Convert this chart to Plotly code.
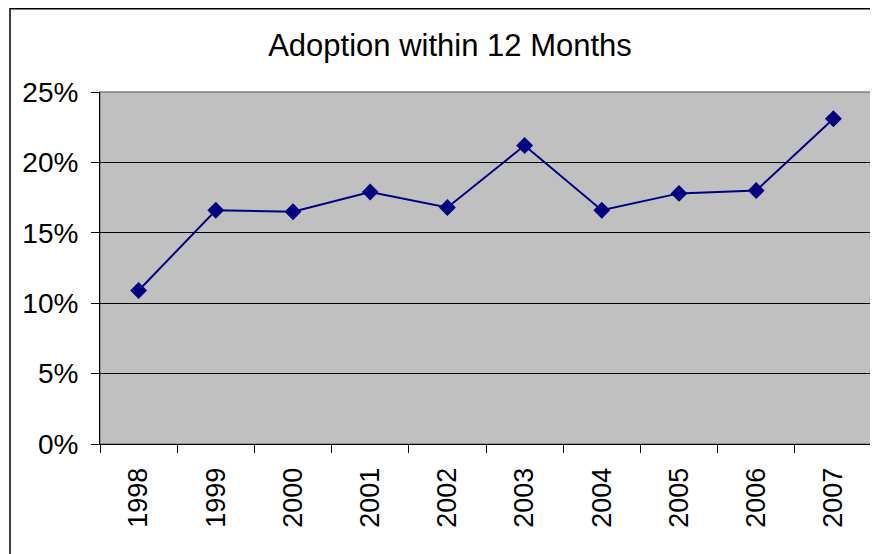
import plotly.graph_objects as go

# ── Data ──────────────────────────────────────────────────────────────────────
years = ["1998", "1999", "2000", "2001", "2002", "2003", "2004", "2005", "2006", "2007"]
adoption = [0.109, 0.166, 0.165, 0.179, 0.168, 0.212, 0.166, 0.178, 0.180, 0.231]
y_ticks = [0, 0.05, 0.10, 0.15, 0.20, 0.25]

# page body has an 8px margin, so the figure is sized to fit the viewport
W, H = 870, 546
L, R, T, B = 92, 6, 84, 110
pw, ph = W - L - R, H - T - B

FONT = "Liberation Sans, Arial, sans-serif"
NAVY = "#000080"

fig = go.Figure(go.Scatter(
    x=years,
    y=adoption,
    mode="lines+markers",
    line=dict(color=NAVY, width=2),
    marker=dict(symbol="diamond", size=13, color=NAVY),
    hovertemplate="%{x}: %{y:.1%}<extra></extra>",
))

fig.update_layout(
    width=W, height=H,
    margin=dict(l=L, r=R, t=T, b=B, pad=0),
    paper_bgcolor="white",
    plot_bgcolor="#C0C0C0",
    showlegend=False,
    font=dict(family=FONT, color="black", size=28),
    title=dict(text="Adoption within 12 Months",
               x=442 / W, xanchor="center",
               y=1 - 37 / H, yanchor="middle",
               font=dict(size=31, family=FONT, color="black")),
    xaxis=dict(
        type="category",
        tickson="boundaries",
        ticks="outside", ticklen=8, tickcolor="black", tickwidth=1,
        tickangle=-90,
        showgrid=False,
        showline=True, linecolor="black", linewidth=1,
        range=[-0.5, len(years) - 0.5],
        tickfont=dict(size=27),
        ticklabelstandoff=12,
    ),
    yaxis=dict(
        range=[0, 0.25],
        tickvals=y_ticks,
        tickformat=".0%",
        ticks="outside", ticklen=8, tickcolor="black", tickwidth=1,
        showgrid=True, gridcolor="black", gridwidth=1,
        showline=True, linecolor="black", linewidth=1,
        zeroline=False,
        tickfont=dict(size=28),
        ticklabelstandoff=7,
    ),
)

# plot-area border (top / right) in grey
fig.add_shape(type="rect", xref="paper", yref="paper",
              x0=0, x1=1, y0=0, y1=1,
              line=dict(color="#808080", width=1.5), layer="below")

# outer chart frame
fig.add_shape(type="rect", xref="paper", yref="paper",
              x0=(2 - L) / pw, x1=(W + 20 - L) / pw,
              y0=-(B + 20) / ph, y1=1 + (T - 0.75) / ph,
              line=dict(color="black", width=1.5))

fig.write_html("out.html")
